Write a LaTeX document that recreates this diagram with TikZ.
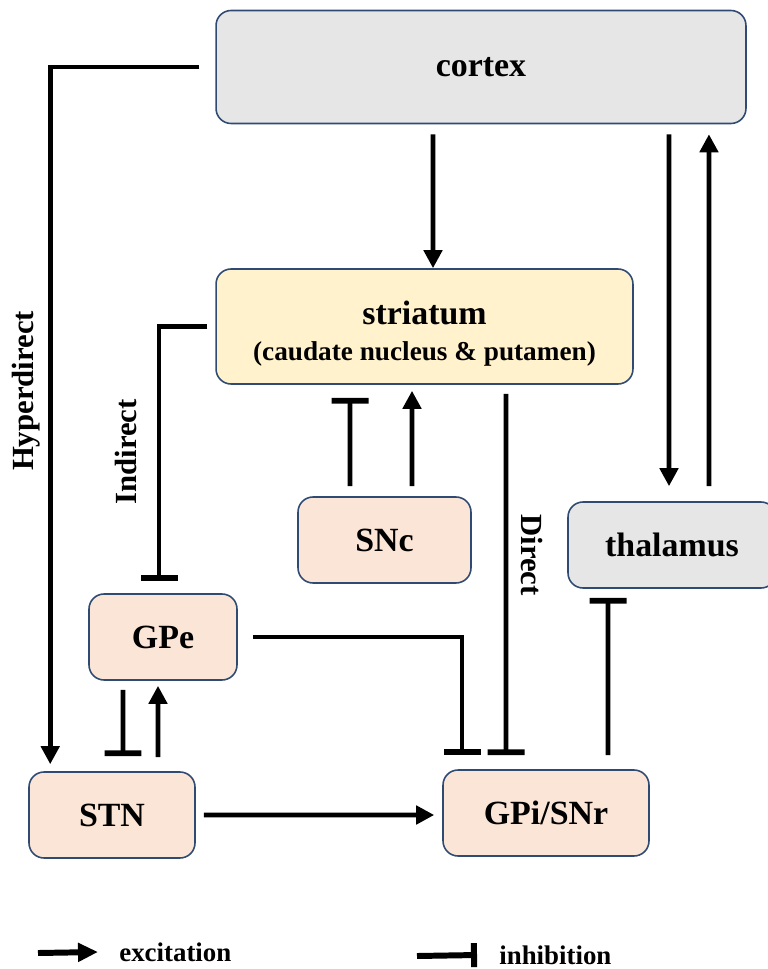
\documentclass[tikz,border=0pt]{standalone}
\usepackage{fontspec}
\setmainfont{Liberation Serif}
\usetikzlibrary{arrows.meta}

\definecolor{boxline}{HTML}{2F4B73}
\definecolor{greyfill}{HTML}{E6E6E6}
\definecolor{yellowfill}{HTML}{FFF2CC}
\definecolor{pinkfill}{HTML}{FBE5D6}

\tikzset{
  region/.style={draw=boxline, line width=0.9pt, rounded corners=0.3cm, inner sep=0pt,
    align=center, font=\fontsize{19.3}{20}\selectfont\bfseries},
  excite/.style={line width=2.6pt, -{Triangle[length=0.36cm,width=0.36cm]}},
  inhibit/.style={line width=2.6pt, -{Bar[width=0.74cm,line width=3.3pt]}},
  pathname/.style={inner sep=0pt, font=\fontsize{17.5}{20}\selectfont\bfseries},
  keytext/.style={inner sep=0pt, anchor=west, font=\fontsize{15.3}{18}\selectfont\bfseries},
}

\begin{document}
\begin{tikzpicture}[x=0.02cm, y=-0.02cm]
            \useasboundingbox (0,0) rectangle (767,969);

            \node[region, fill=greyfill, minimum width=10.6cm, minimum height=2.26cm] (cortex) at (481, 67) {cortex};
            \node[region, fill=yellowfill, minimum width=8.34cm, minimum height=2.3cm] (striatum) at (424.5, 326.5)
                {\rule{0pt}{21.5pt}striatum\\{\fontsize{15.5}{18}\selectfont (caudate nucleus \& putamen)}};
            \node[region, fill=pinkfill, minimum width=3.46cm, minimum height=1.72cm] (snc) at (384.5, 540) {SNc};
            \node[region, fill=greyfill, minimum width=4.16cm, minimum height=1.72cm] (thalamus) at (672, 545) {thalamus};
            \node[region, fill=pinkfill, minimum width=2.96cm, minimum height=1.72cm] (gpe) at (163, 637) {GPe};
            \node[region, fill=pinkfill, minimum width=3.32cm, minimum height=1.72cm] (stn) at (112, 815) {STN};
            \node[region, fill=pinkfill, minimum width=4.12cm, minimum height=1.72cm] (gpi) at (546, 813) {GPi/SNr};

            \node[pathname, rotate=90] (hyper) at (26, 391) {Hyperdirect};
            \node[pathname, rotate=90] (indirect) at (126, 452) {Indirect};
            \node[pathname, rotate=-90] (direct) at (532, 555) {Direct};

            % cortex outputs
            \draw[excite] ([xshift=-0.32cm]cortex.west) -| ([xshift=0.44cm, yshift=0.14cm]stn.north west);
            \draw[excite] ([xshift=-0.96cm, yshift=-0.2cm]cortex.south) -- ([xshift=0.17cm]striatum.north);
            \draw[excite] ([xshift=3.76cm, yshift=-0.2cm]cortex.south) -- ([xshift=-0.06cm, yshift=0.3cm]thalamus.north);
            \draw[excite] ([xshift=0.74cm, yshift=0.3cm]thalamus.north) -- ([xshift=4.56cm, yshift=-0.2cm]cortex.south);

            % striatum and SNc
            \draw[inhibit] ([xshift=-0.16cm]striatum.west) -| ([xshift=-0.08cm, yshift=0.24cm]gpe.north);
            \draw[inhibit] ([xshift=-0.69cm, yshift=0.2cm]snc.north) -- ([xshift=-1.49cm, yshift=-0.26cm]striatum.south);
            \draw[excite] ([xshift=0.55cm, yshift=0.2cm]snc.north) -- ([xshift=-0.25cm, yshift=-0.12cm]striatum.south);
            \draw[inhibit] ([xshift=1.63cm, yshift=-0.18cm]striatum.south) -- ([xshift=-0.8cm, yshift=0.28cm]gpi.north);

            % GPe, STN, GPi/SNr
            \draw[inhibit] ([xshift=0.3cm]gpe.east) -| ([xshift=-1.68cm, yshift=0.28cm]gpi.north);
            \draw[inhibit] ([xshift=-0.8cm, yshift=-0.18cm]gpe.south) -- ([xshift=0.22cm, yshift=0.3cm]stn.north);
            \draw[excite] ([xshift=0.92cm, yshift=0.28cm]stn.north) -- ([xshift=-0.1cm, yshift=-0.1cm]gpe.south);
            \draw[excite] ([xshift=0.16cm]stn.east) -- ([xshift=-0.16cm, yshift=-0.04cm]gpi.west);
            \draw[inhibit] ([xshift=1.24cm, yshift=0.28cm]gpi.north) -- ([xshift=-1.28cm, yshift=-0.18cm]thalamus.south);

            % key
            \coordinate (excstart) at (38, 953);
            \node[keytext] (exc) at (119, 952) {excitation};
            \draw[line width=3.4pt, -{Triangle[length=0.4cm,width=0.36cm]}] (excstart) -- ([xshift=-0.42cm]exc.west);
            \coordinate (inhstart) at (417, 956);
            \node[keytext] (inh) at (499, 955) {inhibition};
            \draw[line width=3.4pt, -{Bar[width=0.48cm,line width=3.4pt]}] (inhstart) -- ([xshift=-0.44cm]inh.west);
        \end{tikzpicture}
\end{document}
